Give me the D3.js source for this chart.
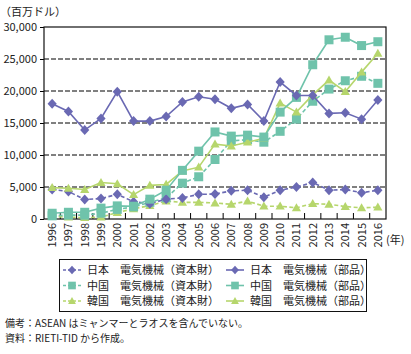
<!DOCTYPE html>
<html><head><meta charset="utf-8">
<script src="https://cdn.jsdelivr.net/npm/d3@7"></script>
<style>
body{margin:0;background:#fff;}
svg{display:block;font-family:"Noto Sans CJK JP","Noto Sans",sans-serif;}
</style></head>
<body><svg id="c" width="411" height="354"></svg>
<script>
const years = ["1996","1997","1998","1999","2000","2001","2002","2003","2004","2005","2006","2007","2008","2009","2010","2011","2012","2013","2014","2015","2016"];
const yTicks = [0,5000,10000,15000,20000,25000,30000];
const japanCapital = [4600,4300,3050,3200,3850,2700,2400,3100,3300,3850,3900,4400,4500,3400,4500,5000,5700,4500,4600,4100,4500];
const japanParts = [18000,16800,13900,15700,19900,15300,15300,16000,18300,19100,18700,17300,17900,15300,21400,19300,19300,16500,16600,15600,18600];
const chinaCapital = [500,600,600,900,1500,1900,2600,3300,5600,6600,9300,12200,12400,12000,13700,15600,18400,20300,21600,22300,21200];
const chinaParts = [900,1050,1050,1700,2050,2000,3100,4500,7600,10600,13600,12950,13100,12800,16700,19000,24100,28000,28400,27100,27700];
const koreaCapital = [400,300,200,300,1000,1600,2100,2800,2600,2600,2500,2300,2800,2000,2000,1750,2400,2300,1950,1750,1850];
const koreaParts = [4900,4800,4600,5700,5500,3800,5250,5400,7500,8100,11700,11400,12000,12600,18100,16700,19400,21700,19900,22950,25900];
const seriesNames = ["日本　電気機械（資本財）","日本　電気機械（部品）","中国　電気機械（資本財）","中国　電気機械（部品）","韓国　電気機械（資本財）","韓国　電気機械（部品）"];

const purple="#6a69b3", teal="#6fc3ab", green="#b6d66c";
const series = [
  {name:seriesNames[4], values:koreaCapital, color:green, dash:"4,2.5", shape:"tri", row:2, col:0},
  {name:seriesNames[2], values:chinaCapital, color:teal, dash:"4,2.5", shape:"sq", row:1, col:0},
  {name:seriesNames[0], values:japanCapital, color:purple, dash:"4,2.5", shape:"dia", row:0, col:0},
  {name:seriesNames[5], values:koreaParts, color:green, dash:null, shape:"tri", row:2, col:1},
  {name:seriesNames[3], values:chinaParts, color:teal, dash:null, shape:"sq", row:1, col:1},
  {name:seriesNames[1], values:japanParts, color:purple, dash:null, shape:"dia", row:0, col:1},
];
const shapes = {
  dia:"M0,-5L4.6,0L0,5L-4.6,0Z",
  sq:"M-4.5,-4.5H4.5V4.5H-4.5Z",
  tri:"M0,-4.6L4.6,3.4H-4.6Z"
};

const svg = d3.select("#c");
const L=44, R=386, T=27, B=219;
const x = d3.scaleBand().domain(years).range([L,R]).padding(0);
const y = d3.scaleLinear().domain([0,30000]).range([B,T]);
const fs = 11;

// gridlines
svg.append("g").selectAll("line").data(yTicks.filter(d=>d>0 && d<30000)).join("line")
  .attr("x1",L).attr("x2",R).attr("y1",d=>y(d)).attr("y2",d=>y(d))
  .attr("stroke","#000").attr("stroke-width",1).attr("stroke-dasharray","5,2");

// y axis
const ya = svg.append("g").attr("transform",`translate(${L},0)`)
  .call(d3.axisLeft(y).tickValues(yTicks).tickSize(4).tickPadding(3).tickFormat(d3.format(",")));
ya.select(".domain").remove();
ya.selectAll("line").attr("stroke","#000");
ya.selectAll("text").attr("font-size",fs).attr("font-family","Noto Sans CJK JP").attr("fill","#222");

// x axis ticks (inside) at band boundaries
const bounds = years.slice(1).map(d=>x(d));
svg.append("g").selectAll("line").data(bounds).join("line")
  .attr("x1",d=>d).attr("x2",d=>d).attr("y1",B).attr("y2",B-6).attr("stroke","#000").attr("stroke-width",1);
// x labels
svg.append("g").selectAll("text").data(years).join("text")
  .attr("transform",d=>`translate(${x(d)+x.bandwidth()/2+4},${B+4}) rotate(-90)`)
  .attr("text-anchor","end").attr("font-size",fs).attr("fill","#222").text(d=>d);
svg.append("text").attr("x",386).attr("y",244).attr("font-size",fs).attr("fill","#222").text("(年)");

// frame
svg.append("rect").attr("x",L).attr("y",T).attr("width",R-L).attr("height",B-T)
  .attr("fill","none").attr("stroke","#111").attr("stroke-width",1.2);

// unit
svg.append("text").attr("x",0).attr("y",15.5).attr("font-size",fs).attr("fill","#222").text("（百万ドル）");

// series
const line = d3.line().x((d,i)=>x(years[i])+x.bandwidth()/2).y(d=>y(d));
series.forEach(s=>{
  const g = svg.append("g");
  g.append("path").attr("d",line(s.values)).attr("fill","none").attr("stroke",s.color)
    .attr("stroke-width",1.6).attr("stroke-dasharray",s.dash);
  g.selectAll("path.m").data(s.values).join("path").attr("class","m")
    .attr("d",shapes[s.shape]).attr("fill",s.color)
    .attr("transform",(d,i)=>`translate(${x(years[i])+x.bandwidth()/2},${y(d)})`);
});

// legend
svg.append("rect").attr("x",59.5).attr("y",259.5).attr("width",307).attr("height",52)
  .attr("fill","#fff").attr("stroke","#111").attr("stroke-width",1);
const rowsY=[270,285.5,301], colX=[63,226];
series.forEach(s=>{
  const g = svg.append("g").attr("transform",`translate(${colX[s.col]},${rowsY[s.row]})`);
  g.append("line").attr("x1",0).attr("x2",18).attr("stroke",s.color).attr("stroke-width",1.6)
    .attr("stroke-dasharray",s.dash?"3,2":null);
  g.append("path").attr("d",shapes[s.shape]).attr("fill",s.color).attr("transform","translate(9,0) scale(0.85)");
  g.append("text").attr("x",24).attr("y",4).attr("font-size",fs).attr("fill","#222").text(s.name);
});

// notes
svg.append("text").attr("x",5).attr("y",327).attr("font-size",10).attr("fill","#222").text("備考：ASEAN はミャンマーとラオスを含んでいない。");
svg.append("text").attr("x",5).attr("y",342).attr("font-size",10).attr("fill","#222").text("資料：RIETI-TID から作成。");
</script></body></html>
